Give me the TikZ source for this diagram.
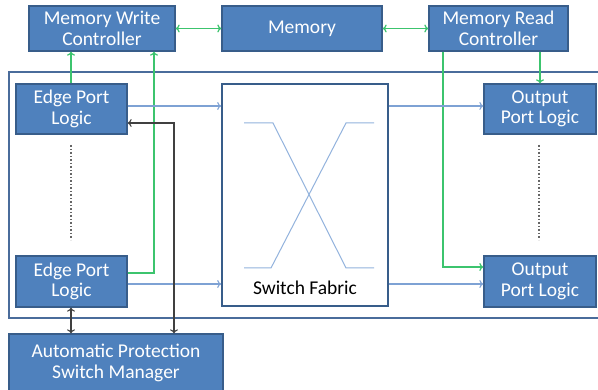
\documentclass[tikz,border=0pt]{standalone}
\usepackage{fontspec}
\setmainfont{Carlito}
\usetikzlibrary{arrows.meta}
\definecolor{boxfill}{HTML}{4F81BD}
\definecolor{boxline}{HTML}{385D8A}
\definecolor{gline}{HTML}{3CC46E}
\definecolor{bline}{HTML}{7EA2D4}
\definecolor{xline}{HTML}{93B3DD}
\definecolor{frameline}{HTML}{4A6C9B}
\definecolor{kline}{HTML}{404040}
\tikzset{
  blk/.style={draw=boxline, line width=1.3pt, fill=boxfill, text=white, align=center,
    font=\fontsize{19.5}{20.5}\selectfont, inner sep=0pt},
  garrow/.style={draw=gline, line width=1.2pt, -{To[length=4pt,width=8pt]}},
  gdouble/.style={draw=gline, line width=1.2pt, {To[length=4pt,width=8pt]}-{To[length=4pt,width=8pt]}},
  barrow/.style={draw=bline, line width=1.1pt, -{To[length=4pt,width=8pt]}},
  karrow/.style={draw=kline, line width=1.1pt, {To[length=4pt,width=8pt]}-{To[length=4pt,width=8pt]}},
  dotline/.style={draw=gray!80!black, line width=1.3pt, dash pattern=on 2pt off 2pt on 1pt off 2pt},
  xl/.style={draw=xline, line width=1pt}
}
\begin{document}
\begin{tikzpicture}[x=1pt,y=-1pt]
\useasboundingbox (0,0) rectangle (598,390);
\fill[white] (0,0) rectangle (598,390);
% outer frame
\draw[frameline, line width=1.6pt] (609,72) -- (9,72) -- (9,318) -- (609,318);
% boxes
\node[blk, minimum width=146pt, minimum height=45pt] (mwc) at (102,28.5) {Memory Write\\Controller};
\node[blk, minimum width=160pt, minimum height=45pt] (mem) at (302,28.5) {Memory};
\node[blk, minimum width=139pt, minimum height=45pt] (mrc) at (498.5,28.5) {Memory Read\\Controller};
\node[blk, minimum width=111pt, minimum height=50pt] (epl1) at (71.5,109) {Edge Port\\Logic};
\node[blk, minimum width=111pt, minimum height=51pt] (epl2) at (71.5,281.5) {Edge Port\\Logic};
\node[blk, minimum width=112pt, minimum height=50pt] (opl1) at (540,109) {Output\\Port Logic};
\node[blk, minimum width=112pt, minimum height=51pt] (opl2) at (540,281.5) {Output\\Port Logic};
\node[blk, minimum width=214pt, minimum height=58pt] (aps) at (116,363) {Automatic Protection\\Switch Manager};
\node[draw=boxline, line width=1.6pt, fill=white, minimum width=166pt, minimum height=222pt, inner sep=0pt] (sf) at (305,195) {};
\node[font=\fontsize{19.5}{20.5}\selectfont, text=black, inner sep=0pt] (sflabel) at (305,288) {Switch Fabric};
% crossing lines inside switch fabric
\draw[xl] (244,123) -- (273,123) -- (346,268) -- (374,268);
\draw[xl] (374,123) -- (346,123) -- (271,268) -- (244,268);
% helper coordinates
\coordinate (row1) at (0,106);
\coordinate (row2) at (0,284);
\coordinate (g1) at (71,0);
\coordinate (g2) at (154,273);
\coordinate (g3) at (443,267);
\coordinate (k1) at (174,123);
% memory links
\draw[gdouble] (mwc.east) -- (mem.west);
\draw[gdouble] (mem.east) -- (mrc.west);
% green write paths
\draw[garrow] (epl1.north -| g1) -- (mwc.south -| g1);
\draw[garrow] (epl2.east |- g2) -| (mwc.south -| g2);
% green read paths
\draw[garrow] (mrc.south -| opl1.north) -- (opl1.north);
\draw[garrow] (mrc.south -| g3) |- (opl2.west |- g3);
% blue data paths
\draw[barrow] (epl1.east |- row1) -- (sf.west |- row1);
\draw[barrow] (sf.east |- row1) -- (opl1.west |- row1);
\draw[barrow] (epl2.east |- row2) -- (sf.west |- row2);
\draw[barrow] (sf.east |- row2) -- (opl2.west |- row2);
% black protection paths
\draw[karrow] (epl1.east |- k1) -| (aps.north -| k1);
\draw[karrow] (epl2.south -| g1) -- (aps.north -| g1);
% dotted continuation
\draw[dotline] (71,145) -- (71,240);
\draw[dotline] (539,145) -- (539,240);
\end{tikzpicture}
\end{document}
